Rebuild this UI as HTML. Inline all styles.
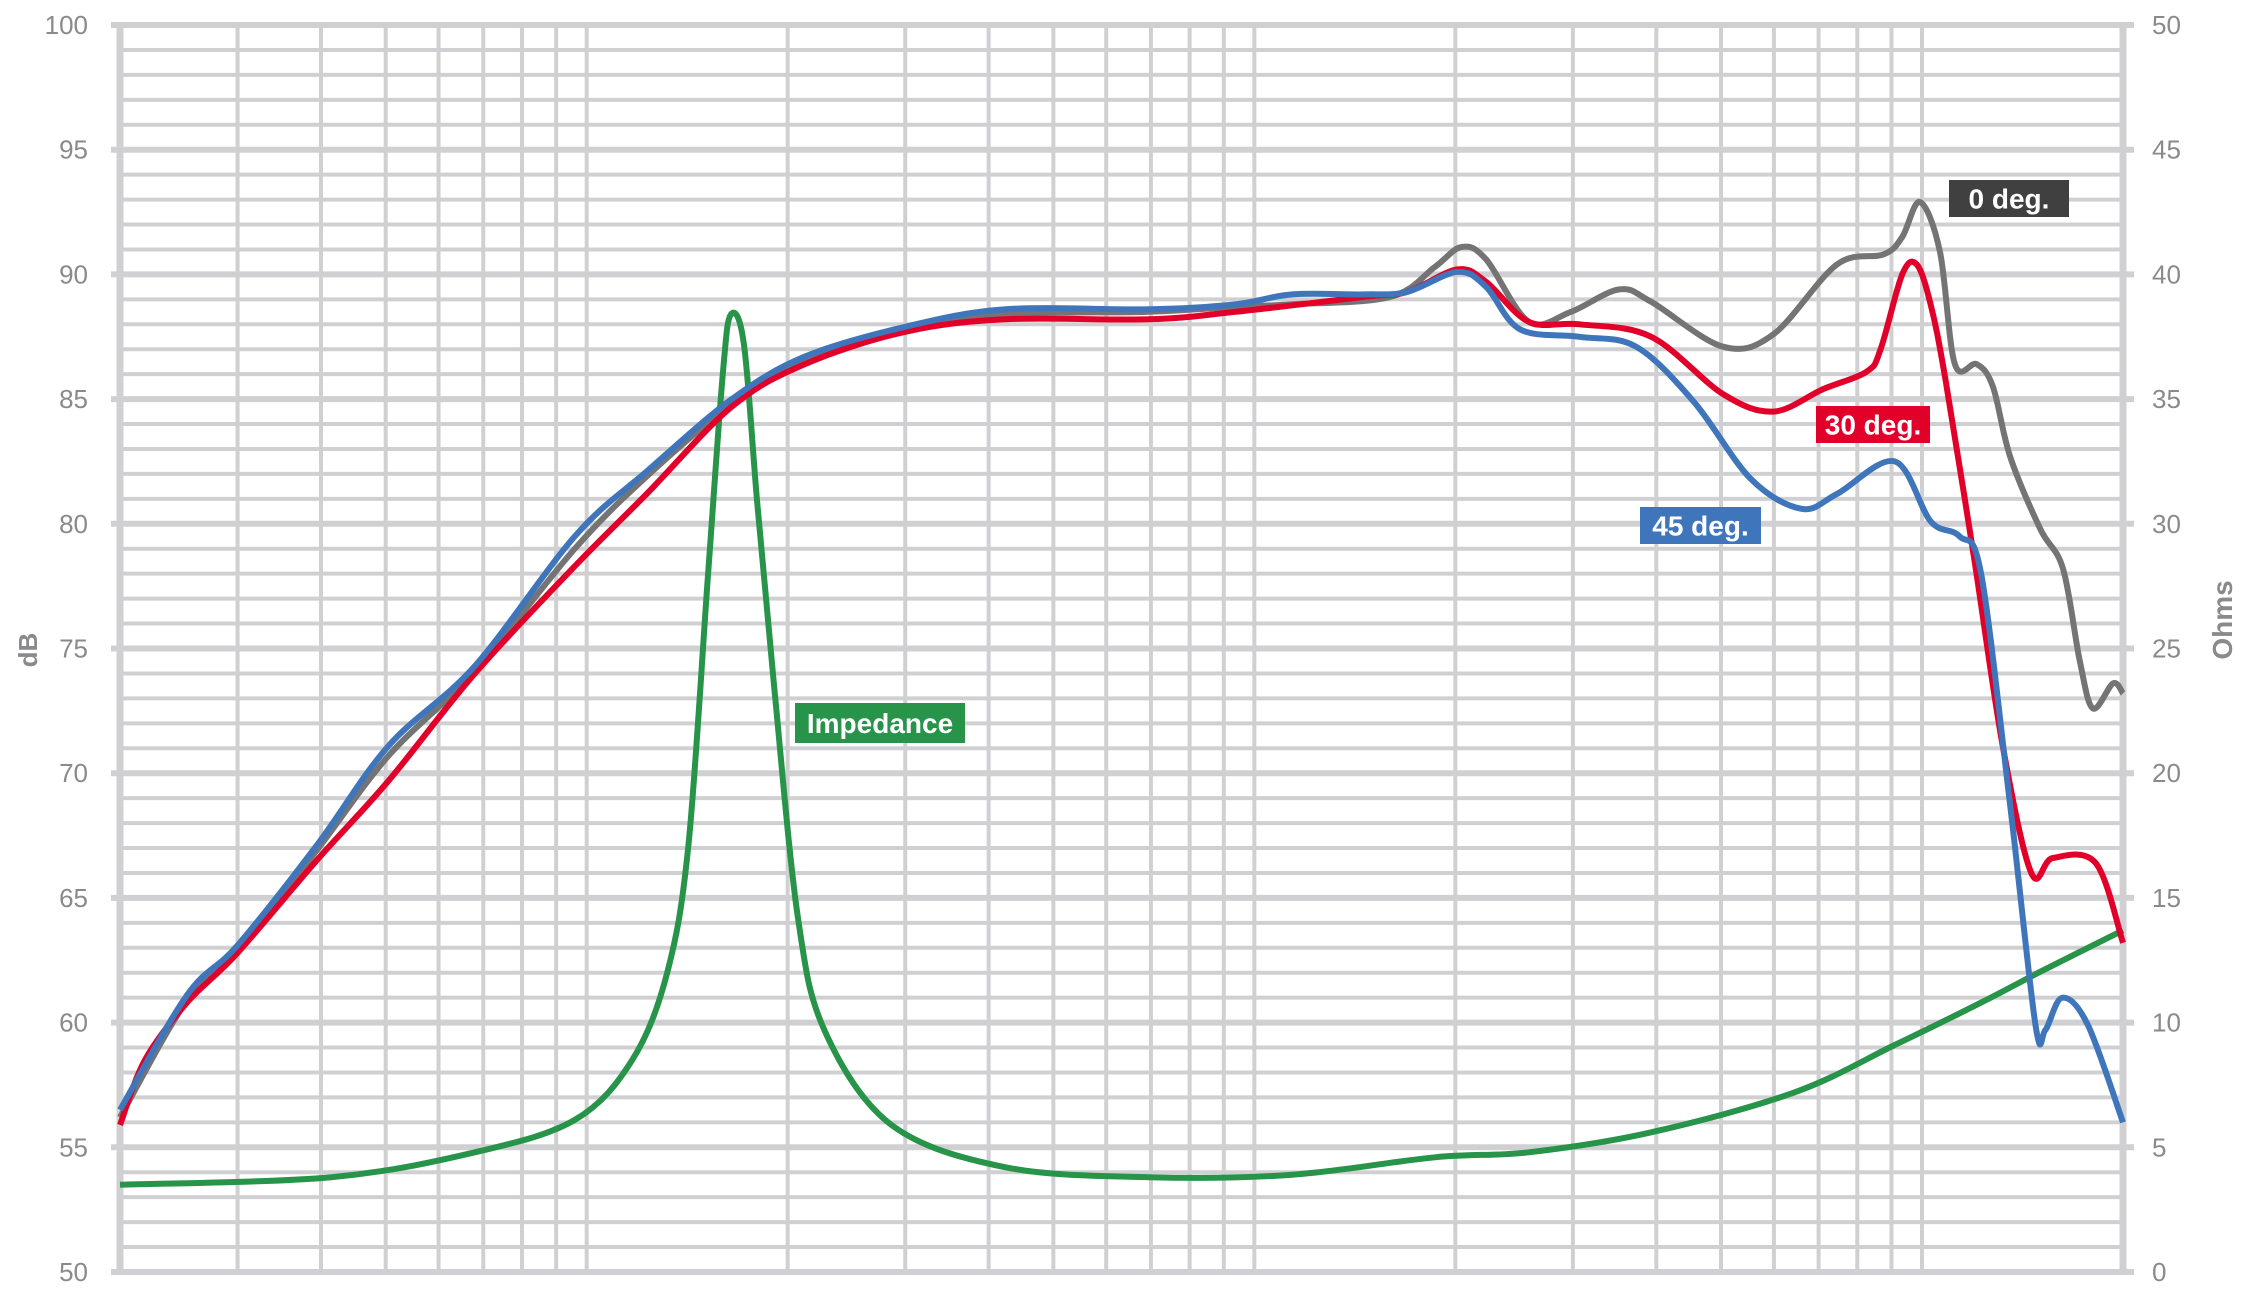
<!DOCTYPE html>
<html><head><meta charset="utf-8"><style>
html,body{margin:0;padding:0;background:#fff;}
svg{display:block;font-family:"Liberation Sans",sans-serif;}
</style></head><body>
<svg id="chart" width="2248" height="1294" viewBox="0 0 2248 1294" xmlns="http://www.w3.org/2000/svg">
<g id="grid"></g>
<g id="axes"></g>
<g id="series"></g>
<g id="labels"></g>
</svg>
<script>
// ---- data ----
const dbTicks = [50,55,60,65,70,75,80,85,90,95,100];
const ohmTicks = [0,5,10,15,20,25,30,35,40,45,50];
const freqGrid = [20,30,40,50,60,70,80,90,100,200,300,400,500,600,700,800,900,1000,2000,3000,4000,5000,6000,7000,8000,9000,10000,20000];

const redF  = [20,21.8,25.2,30,39.4,50.5,68,96,123,165,212,300,424,695,936,1460,1694,2014,2224,2577,3070,3930,5034,5990,7110,8260,8670,9340,9820,10300,10840,11970,13210,14580,15700,18200,20000];
const redDb = [55.9,58.5,60.8,62.8,66.5,69.7,74.0,78.3,81.2,84.7,86.4,87.7,88.2,88.2,88.5,89.1,89.3,90.2,89.7,88.1,88.0,87.5,85.2,84.5,85.4,86.1,87.0,90.0,90.4,88.8,85.8,78.6,71.1,66.0,66.6,66.4,63.2];

const grayF  = [20,25.2,30,39.4,50.5,68,96,123,165,212,300,424,695,936,1140,1600,1864,2044,2224,2577,2980,3520,3930,5034,5990,7460,8760,9340,9930,10640,11200,12080,12770,13550,15030,16260,17230,18030,19320,20000];
const grayDb = [56.2,60.9,62.9,66.9,70.7,74.1,79.0,81.9,84.8,86.6,87.8,88.4,88.5,88.7,88.8,89.1,90.3,91.1,90.6,88.1,88.5,89.4,88.9,87.1,87.6,90.4,90.8,91.5,92.9,90.9,86.4,86.4,85.5,82.7,79.8,78.2,74.5,72.6,73.6,73.2];

const blueF  = [20,25.2,30,39.4,50.5,68,96,123,165,212,300,424,695,936,1140,1460,1694,2014,2224,2500,3070,3730,4550,5540,6600,7460,9100,10300,11380,12260,13540,14790,15300,16220,17720,20000];
const blueDb = [56.5,61.1,63.1,67.1,71.1,74.3,79.5,82.1,85.0,86.7,87.9,88.6,88.6,88.8,89.2,89.2,89.3,90.1,89.5,87.8,87.5,87.1,84.9,81.8,80.6,81.2,82.5,80.1,79.5,78.0,68.8,59.9,59.7,61.0,59.9,56.0];

const impF   = [20,41.4,68,96,117,132,142,152,160,164.5,172,180,191,207,227,286,424,695,1140,1864,2577,3930,6440,9100,12260,14940,20000];
const impOhm = [3.5,3.8,4.8,6.1,8.5,12.0,17.1,28.0,36.1,38.4,37.2,30.9,23.4,14.3,9.7,5.9,4.2,3.8,3.9,4.6,4.8,5.6,7.2,9.1,10.8,12.0,13.7];

// ---- scales ----
const X0=120, X1=2123, Y0=25, Y1=1272;
const xs = f => X0 + (Math.log10(f/20)/3)*(X1-X0);
const yDb = d => Y1 - (d-50)/50*(Y1-Y0);
const yOhm = o => Y1 - o/50*(Y1-Y0);
const NS='http://www.w3.org/2000/svg';
function mk(tag, attrs, parent){const e=document.createElementNS(NS,tag);for(const k in attrs)e.setAttribute(k,attrs[k]);parent.appendChild(e);return e;}
const grid=document.getElementById('grid'), axes=document.getElementById('axes'), series=document.getElementById('series'), labels=document.getElementById('labels');
const GC='#d0d0d2';

for(let d=50; d<=100; d++){
  const y=yDb(d); const major=(d%5===0);
  const l=mk('line',{x1:major?111:X0,x2:major?2134:X1,y1:y,y2:y,stroke:GC,'stroke-width':major?6:4},grid);
  
  
}
freqGrid.forEach(f=>{
  const x=xs(f);
  const l=mk('line',{x1:x,x2:x,y1:Y0,y2:Y1,stroke:GC,'stroke-width':(f===20||f===20000)?7:4},grid);
  
  
});
dbTicks.forEach(d=>{
  const t=mk('text',{x:88,y:yDb(d)+9,'text-anchor':'end','font-size':26,fill:'#8a8a8d'},axes);
  t.textContent=d;
  
  
});
ohmTicks.forEach(o=>{
  const t=mk('text',{x:2152,y:yOhm(o)+9,'text-anchor':'start','font-size':26,fill:'#8a8a8d'},axes);
  t.textContent=o;
  
  
});
let t=mk('text',{x:0,y:0,transform:'translate(37,650) rotate(-90)','text-anchor':'middle','font-size':26,'font-weight':'bold',fill:'#8a8a8d'},axes);
t.textContent='dB';


t=mk('text',{x:0,y:0,transform:'translate(2232,620) rotate(-90)','text-anchor':'middle','font-size':28,'font-weight':'bold',fill:'#8a8a8d'},axes);
t.textContent='Ohms';



function pathFrom(pts){
  let d='M'+pts[0][0].toFixed(1)+','+pts[0][1].toFixed(1);
  for(let i=0;i<pts.length-1;i++){
    const p0=pts[Math.max(0,i-1)],p1=pts[i],p2=pts[i+1],p3=pts[Math.min(pts.length-1,i+2)];
    const c1=[p1[0]+(p2[0]-p0[0])/6,p1[1]+(p2[1]-p0[1])/6];
    const c2=[p2[0]-(p3[0]-p1[0])/6,p2[1]-(p3[1]-p1[1])/6];
    d+='C'+c1[0].toFixed(1)+','+c1[1].toFixed(1)+' '+c2[0].toFixed(1)+','+c2[1].toFixed(1)+' '+p2[0].toFixed(1)+','+p2[1].toFixed(1);
  }
  return d;
}
function drawSeries(fs,vs,yfn,color,name){
  const pts=fs.map((f,i)=>[xs(f),yfn(vs[i])]);
  const p=mk('path',{d:pathFrom(pts),fill:'none',stroke:color,'stroke-width':6,'stroke-linejoin':'round'},series);
  
  
}
drawSeries(impF,impOhm,yOhm,'#27944a','impedance-line');
drawSeries(grayF,grayDb,yDb,'#747474','0-deg-line');
drawSeries(redF,redDb,yDb,'#e2002a','30-deg-line');
drawSeries(blueF,blueDb,yDb,'#3f76bb','45-deg-line');

function label(x,y,w,h,bg,text,name){
  const g=mk('g',{},labels);
  
  
  mk('rect',{x:x,y:y,width:w,height:h,fill:bg},g);
  const tx=mk('text',{x:x+w/2,y:y+h/2+10,'text-anchor':'middle','font-size':28,'font-weight':'bold',fill:'#fff'},g);
  tx.textContent=text;
}
label(1949,180,120,37,'#404040','0 deg.','legend-0-deg');
label(1816,406,114,37,'#e2002a','30 deg.','legend-30-deg');
label(1640,507,121,37,'#3f76bb','45 deg.','legend-45-deg');
label(795,703,170,40,'#27944a','Impedance','legend-impedance');
</script>
</body></html>
